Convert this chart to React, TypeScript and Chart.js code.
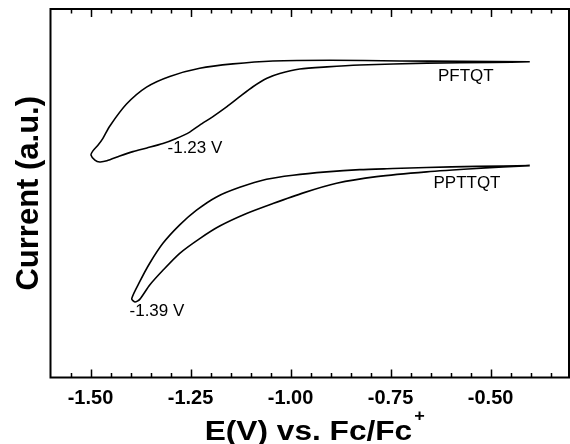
import React, { useEffect, useRef } from 'react';
import { Chart, registerables } from 'chart.js';

Chart.register(...registerables);

// Axis ranges
const X_MIN = -1.6;
const X_MAX = -0.304;
const Y_MIN = 0;
const Y_MAX = 100;

// Tick labels on the potential axis
const MAJOR_TICKS = [-1.5, -1.25, -1.0, -0.75, -0.5];
const MINOR_STEP = 0.05;

// PFTQT cyclic voltammogram (potential in V vs Fc/Fc+, current in a.u.)
const PFTQT_E = [
  -0.402, -0.494, -0.659, -0.827, -0.909, -0.977, -1.027, -1.059, -1.094, -1.127,
  -1.159, -1.194, -1.227, -1.252, -1.287, -1.319, -1.359, -1.394, -1.427, -1.459,
  -1.477, -1.489, -1.499, -1.494, -1.481, -1.469, -1.452, -1.41, -1.36, -1.302,
  -1.227, -1.144, -1.044, -0.902, -0.727, -0.577, -0.402,
];
const PFTQT_I = [
  85.7, 85.5, 85.3, 84.8, 84.3, 83.7, 82.5, 81.2, 78.9, 76.2,
  73.5, 70.8, 68.5, 66.6, 64.8, 63.5, 62.3, 61.3, 60.1, 58.8,
  58.5, 59.0, 60.4, 61.5, 63.1, 64.9, 68.2, 74.2, 78.8, 81.7,
  83.9, 85.1, 85.9, 86.1, 85.9, 85.8, 85.7,
];

// PPTTQT cyclic voltammogram
const PPTTQT_E = [
  -0.402, -0.535, -0.66, -0.744, -0.827, -0.91, -0.994, -1.06, -1.127, -1.185,
  -1.235, -1.277, -1.319, -1.352, -1.377, -1.397, -1.389, -1.377, -1.352, -1.319,
  -1.277, -1.227, -1.177, -1.11, -1.044, -0.968, -0.885, -0.785, -0.66, -0.535,
  -0.402,
];
const PPTTQT_I = [
  57.5, 57.3, 57.0, 56.7, 56.4, 55.8, 54.9, 53.8, 51.6, 49.0,
  45.4, 41.4, 36.4, 31.0, 26.0, 21.4, 20.5, 21.2, 25.1, 29.1,
  33.7, 37.7, 41.1, 44.5, 47.2, 50.1, 52.7, 54.5, 55.8, 56.7,
  57.5,
];

// In-plot annotations (text and anchor in data units)
const NOTE_TEXT = ['PFTQT', '-1.23 V', 'PPTTQT', '-1.39 V'];
const NOTE_E = [-0.562, -1.239, -0.559, -1.334];
const NOTE_I = [81.6, 62.3, 52.8, 17.9];

const X_TITLE = 'E(V) vs. Fc/Fc';
const X_TITLE_SUP = '+';
const Y_TITLE = 'Current (a.u.)';

const FAMILY = '"Liberation Sans", Arial, Helvetica, sans-serif';

const toPoints = (xs: number[], ys: number[]) => xs.map((x, i) => ({ x, y: ys[i] }));

const decorPlugin = {
  id: 'decor',
  afterDraw(chart: any) {
    const { ctx, chartArea: a, scales } = chart;
    const xs = scales.x;
    const ys = scales.y;
    ctx.save();
    // frame
    ctx.strokeStyle = '#000';
    ctx.lineWidth = 2;
    ctx.strokeRect(a.left, a.top, a.right - a.left, a.bottom - a.top);
    // inward ticks on bottom and top
    ctx.lineWidth = 1.5;
    for (let k = 1; ; k++) {
      const v = X_MIN + k * MINOR_STEP;
      if (v > X_MAX - 1e-9) break;
      const px = Math.round(xs.getPixelForValue(v)) + 0.5;
      const major = MAJOR_TICKS.some((m) => Math.abs(m - v) < 1e-6);
      const lenB = major ? 8 : 4.5;
      const lenT = major ? 8 : 4.5;
      ctx.beginPath();
      ctx.moveTo(px, a.bottom);
      ctx.lineTo(px, a.bottom - lenB);
      ctx.moveTo(px, a.top);
      ctx.lineTo(px, a.top + lenT);
      ctx.stroke();
    }
    // annotations
    ctx.fillStyle = '#000';
    ctx.font = `17px ${FAMILY}`;
    ctx.textAlign = 'center';
    ctx.textBaseline = 'middle';
    NOTE_TEXT.forEach((t, i) => {
      ctx.fillText(t, xs.getPixelForValue(NOTE_E[i]), ys.getPixelForValue(NOTE_I[i]));
    });
    // x axis title with superscript
    const sx = 1.13;
    ctx.font = `bold 28px ${FAMILY}`;
    const wMain = ctx.measureText(X_TITLE).width * sx;
    ctx.font = `bold 16px ${FAMILY}`;
    const wSup = ctx.measureText(X_TITLE_SUP).width * sx;
    const total = wMain + 2 + wSup;
    const cx = (a.left + a.right) / 2 + 5;
    const startX = cx - total / 2;
    const baseY = chart.height - 4.5;
    ctx.textAlign = 'left';
    ctx.textBaseline = 'alphabetic';
    ctx.save();
    ctx.translate(startX, baseY);
    ctx.scale(sx, 1);
    ctx.font = `bold 28px ${FAMILY}`;
    ctx.fillText(X_TITLE, 0, 0);
    ctx.restore();
    ctx.save();
    ctx.translate(startX + wMain + 2, baseY - 19);
    ctx.scale(sx, 1);
    ctx.font = `bold 16px ${FAMILY}`;
    ctx.fillText(X_TITLE_SUP, 0, 0);
    ctx.restore();
    ctx.restore();
  },
};

export default function App() {
  const ref = useRef<HTMLCanvasElement | null>(null);
  useEffect(() => {
    if (!ref.current) return;
    const chart = new Chart(ref.current, {
      type: 'scatter',
      data: {
        datasets: [
          {
            label: 'PFTQT',
            data: toPoints(PFTQT_E, PFTQT_I),
            showLine: true,
            borderColor: '#000',
            borderWidth: 1.6,
            pointRadius: 0,
            tension: 0.25,
            fill: false,
          },
          {
            label: 'PPTTQT',
            data: toPoints(PPTTQT_E, PPTTQT_I),
            showLine: true,
            borderColor: '#000',
            borderWidth: 1.6,
            pointRadius: 0,
            tension: 0.25,
            fill: false,
          },
        ],
      },
      options: {
        animation: false,
        responsive: false,
        maintainAspectRatio: false,
        devicePixelRatio: 1,
        layout: { padding: { top: 9, right: 1, left: 0, bottom: 0 } },
        plugins: { legend: { display: false }, tooltip: { enabled: false } },
        scales: {
          x: {
            type: 'linear',
            min: X_MIN,
            max: X_MAX,
            grid: { display: false, drawTicks: false },
            border: { display: false },
            afterBuildTicks: (scale: any) => {
              scale.ticks = MAJOR_TICKS.map((v) => ({ value: v }));
            },
            afterFit: (scale: any) => {
              scale.height = 66.5;
            },
            ticks: {
              color: '#000',
              padding: 11,
              maxRotation: 0,
              autoSkip: false,
              font: { family: FAMILY, size: 20, weight: 'bold', lineHeight: 1 },
              callback: (v: any) => Number(v).toFixed(2),
            },
          },
          y: {
            type: 'linear',
            min: Y_MIN,
            max: Y_MAX,
            grid: { display: false, drawTicks: false },
            border: { display: false },
            ticks: { display: false },
            afterFit: (scale: any) => {
              scale.width = 50.5;
            },
            title: {
              display: true,
              text: Y_TITLE,
              color: '#000',
              padding: { top: 13.7, bottom: 0 },
              font: { family: FAMILY, size: 31, weight: 'bold', lineHeight: 1 },
            },
          },
        },
      },
      plugins: [decorPlugin],
    } as any);
    return () => chart.destroy();
  }, []);
  return (
    <div style={{ position: 'fixed', left: 0, top: 0, width: 570, height: 444, background: '#fff' }}>
      <canvas ref={ref} width={570} height={444} style={{ display: 'block' }} />
    </div>
  );
}
